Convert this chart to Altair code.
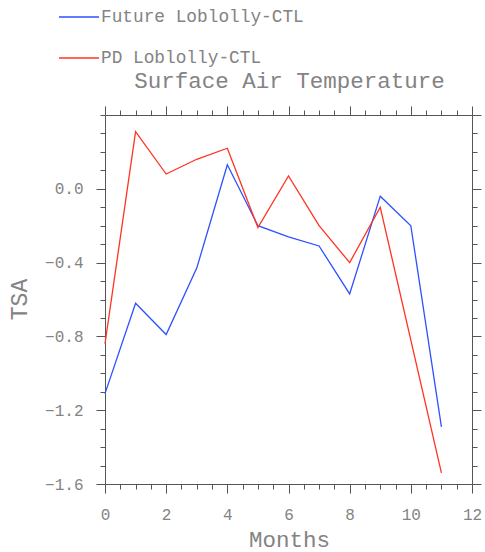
import altair as alt
import pandas as pd

# Monthly surface air temperature differences (TSA) for two experiments
months = list(range(12))
future_loblolly = [-1.11, -0.62, -0.79, -0.43, 0.13, -0.20, -0.26, -0.31, -0.57, -0.04, -0.20, -1.29]
pd_loblolly = [-0.84, 0.31, 0.08, 0.16, 0.22, -0.21, 0.07, -0.20, -0.40, -0.10, -0.82, -1.54]

series_names = ["Future Loblolly-CTL", "PD Loblolly-CTL"]
series_colors = ["#2f50ff", "#ff3322"]

x_major = [0, 2, 4, 6, 8, 10, 12]
x_minor = [i * 0.5 for i in range(25)]
y_major = [-1.6, -1.2, -0.8, -0.4, 0.0]
y_minor = [round(-1.6 + i * 0.1, 1) for i in range(21)]

rows = []
for name, vals in zip(series_names, [future_loblolly, pd_loblolly]):
    for m, v in zip(months, vals):
        rows.append({"month": m, "value": v, "series": name})
df = pd.DataFrame(rows)

FONT = "Liberation Mono"
TEXT = "#838383"
AXIS = "#555555"

xs = alt.Scale(domain=[0, 12], nice=False, zero=False)
ys = alt.Scale(domain=[-1.6, 0.4], nice=False, zero=False)

base = alt.Chart(df)

tick_style = dict(grid=False, tickColor=AXIS, tickWidth=1)
frame_style = dict(domainColor=AXIS, domainWidth=1, **tick_style)

# data lines with the labelled bottom/left axes
main = base.mark_line(strokeWidth=1.3).encode(
    x=alt.X("month:Q", scale=xs, axis=alt.Axis(
        orient="bottom", values=x_major, tickSize=9, labelPadding=26,
        labelBaseline="alphabetic", labelFont=FONT, labelFontSize=16, labelColor=TEXT,
        labelFlush=False, format="d",
        title="Months", titleFont=FONT, titleFontSize=22.5, titleColor=TEXT,
        titleFontWeight="normal", titleBaseline="alphabetic", titleX=184, titleY=62,
        titleAnchor="middle", **frame_style)),
    y=alt.Y("value:Q", scale=ys, axis=alt.Axis(
        orient="left", values=y_major, tickSize=9, labelPadding=13,
        labelFont=FONT, labelFontSize=16, labelColor=TEXT, format=".1f",
        title="TSA", titleFont=FONT, titleFontSize=23, titleColor=TEXT,
        titleFontWeight="normal", titleAngle=270, titleBaseline="middle",
        titleAlign="center", titleX=-86, titleY=184, **frame_style)),
    color=alt.Color("series:N", scale=alt.Scale(domain=series_names, range=series_colors),
                    legend=alt.Legend(
                        orient="none", legendX=-47, legendY=-119, title=None,
                        symbolType="stroke", symbolSize=1600, symbolStrokeWidth=1.3,
                        labelFont=FONT, labelFontSize=17.8, labelColor=TEXT,
                        labelLimit=0, labelOffset=1, rowPadding=11, padding=0, offset=0)),
)

def axis_layer(x_axis, y_axis):
    return base.mark_line(strokeOpacity=0).encode(
        x=alt.X("month:Q", scale=xs, axis=x_axis),
        y=alt.Y("value:Q", scale=ys, axis=y_axis),
        detail="series:N",
    )

# minor ticks on bottom / left
minor_bl = axis_layer(
    alt.Axis(orient="bottom", values=x_minor, tickSize=5, labels=False, title=None, domain=False, **tick_style),
    alt.Axis(orient="left", values=y_minor, tickSize=5, labels=False, title=None, domain=False, **tick_style),
)
# major ticks on top / right; the top axis carries the chart heading
major_tr = axis_layer(
    alt.Axis(orient="top", values=x_major, tickSize=9, labels=False,
             title="Surface Air Temperature", titleFont=FONT, titleFontSize=22.5,
             titleColor=TEXT, titleFontWeight="normal", titleBaseline="alphabetic",
             titleAnchor="middle", titleX=184, titleY=-28, **frame_style),
    alt.Axis(orient="right", values=y_major + [0.4], tickSize=9, labels=False, title=None, **frame_style),
)
# minor ticks on top / right
minor_tr = axis_layer(
    alt.Axis(orient="top", values=x_minor, tickSize=5, labels=False, title=None, domain=False, **tick_style),
    alt.Axis(orient="right", values=y_minor, tickSize=5, labels=False, title=None, domain=False, **tick_style),
)

chart = alt.layer(main, minor_bl, major_tr, minor_tr).resolve_axis(
    x="independent", y="independent"
).properties(
    width=367,
    height=369,
    padding={"left": 105, "top": 115, "right": 13, "bottom": 68},
    autosize=alt.AutoSizeParams(type="none"),
).configure_view(stroke=None).configure(background="white")

chart.save("out.html", embed_options={"renderer": "svg", "actions": False})
